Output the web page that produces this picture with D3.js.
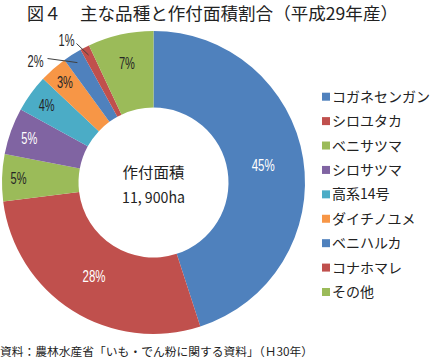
<!DOCTYPE html>
<html><head><meta charset="utf-8">
<script src="https://cdn.jsdelivr.net/npm/d3@7/dist/d3.min.js"></script>
<style>body{margin:0;background:#fff}svg{display:block}</style>
</head><body>
<svg id="c" width="431" height="360"></svg>
<script>
const categories = ["コガネセンガン","シロユタカ","ベニサツマ","シロサツマ","高系14号","ダイチノユメ","ベニハルカ","コナホマレ","その他"];
const shares = [45,28,5,5,4,3,2,1,7];
const labels = ["45%","28%","5%","5%","4%","3%","2%","1%","7%"];
const colors = ["#4F81BD","#C0504D","#9BBB59","#8064A2","#4BACC6","#F79646","#4F81BD","#C0504D","#9BBB59"];
const labelColors = ["#fff","#fff","#262626","#fff","#262626","#262626","#262626","#262626","#262626"];
// layout: label radius per slice (null = outside with leader)
const labelRadius = [111,111,135,132,132,134,null,null,122];
const title1 = "図４", title2 = "主な品種と作付面積割合（平成29年産）";
const centerLines = ["作付面積","11, 900ha"];
const source = "資料：農林水産省「いも・でん粉に関する資料」（Ｈ30年）";

const svg = d3.select("#c");
const cx = 153.5, cy = 182.5, R = 151.5, r0 = 75;
const font = "'Noto Sans CJK JP','Noto Sans',sans-serif";
const numFont = "'Liberation Sans Narrow','Liberation Sans',Arial,sans-serif";

const data = categories.map((c,i)=>({name:c,value:shares[i],label:labels[i],i}));
const pie = d3.pie().value(d=>d.value).sort(null);
const arcs = pie(data);
const arc = d3.arc().innerRadius(r0).outerRadius(R);
const g = svg.append("g").attr("transform",`translate(${cx},${cy})`);
g.selectAll("path").data(arcs).join("path")
  .attr("d",arc).attr("fill",d=>colors[d.data.i]);

// inside labels
arcs.forEach(a=>{
  const i=a.data.i, lr=labelRadius[i];
  const mid=(a.startAngle+a.endAngle)/2;
  if(lr!==null){
    const x=Math.sin(mid)*lr, y=-Math.cos(mid)*lr;
    g.append("text").attr("x",x).attr("y",y).attr("dy","0.36em")
      .attr("text-anchor","middle").attr("font-family",numFont).attr("font-size",16)
      .attr("textLength",a.data.label.length>2?23:16).attr("lengthAdjust","spacingAndGlyphs")
      .attr("fill",labelColors[i]).text(a.data.label);
  }
});
// outside labels with leader lines
const outside = {6:{lineR0:142, line:[-106,-124], text:[-118,-121]}, 7:{lineR0:143, line:[-77,-139], text:[-87,-142]}};
arcs.forEach(a=>{
  const i=a.data.i; if(labelRadius[i]!==null) return;
  const mid=(a.startAngle+a.endAngle)/2;
  const o=outside[i];
  const x0=Math.sin(mid)*o.lineR0, y0=-Math.cos(mid)*o.lineR0;
  g.append("line").attr("x1",x0).attr("y1",y0).attr("x2",o.line[0]).attr("y2",o.line[1])
    .attr("stroke","#404040").attr("stroke-width",1);
  g.append("text").attr("x",o.text[0]).attr("y",o.text[1]).attr("dy","0.36em")
    .attr("text-anchor","middle").attr("font-family",numFont).attr("font-size",16)
    .attr("textLength",16).attr("lengthAdjust","spacingAndGlyphs")
    .attr("fill","#262626").text(a.data.label);
});

// center text
g.append("text").attr("x",0).attr("y",-10).attr("dy","0.36em").attr("text-anchor","middle")
  .attr("font-family",font).attr("font-size",15).attr("fill","#222")
  .attr("textLength",62).attr("lengthAdjust","spacingAndGlyphs").text(centerLines[0]);
g.append("text").attr("x",0).attr("y",15.5).attr("dy","0.36em").attr("text-anchor","middle")
  .attr("font-family",font).attr("font-size",15).attr("fill","#222")
  .attr("textLength",63).attr("lengthAdjust","spacingAndGlyphs").text(centerLines[1]);

// legend
const ly = d3.scalePoint().domain(categories).range([96.7,292]);
const lg = svg.append("g");
categories.forEach((c,i)=>{
  lg.append("rect").attr("x",322).attr("y",ly(c)-4).attr("width",8).attr("height",8).attr("fill",colors[i]);
  lg.append("text").attr("x",332).attr("y",ly(c)).attr("dy","0.36em")
    .attr("font-family",font).attr("font-size",14).attr("fill","#222").text(c);
});

// title
svg.append("text").attr("x",27).attr("y",14).attr("dy","0.36em").attr("font-family",font)
  .attr("font-size",17).attr("fill","#222").text(title1);
svg.append("text").attr("x",80).attr("y",14).attr("dy","0.36em").attr("font-family",font)
  .attr("font-size",17).attr("fill","#222").attr("textLength",318).attr("lengthAdjust","spacingAndGlyphs").text(title2);
// source
svg.append("text").attr("x",0).attr("y",352).attr("dy","0.36em").attr("font-family",font)
  .attr("font-size",11.5).attr("fill","#222").attr("textLength",313).attr("lengthAdjust","spacingAndGlyphs").text(source);
</script>
</body></html>
